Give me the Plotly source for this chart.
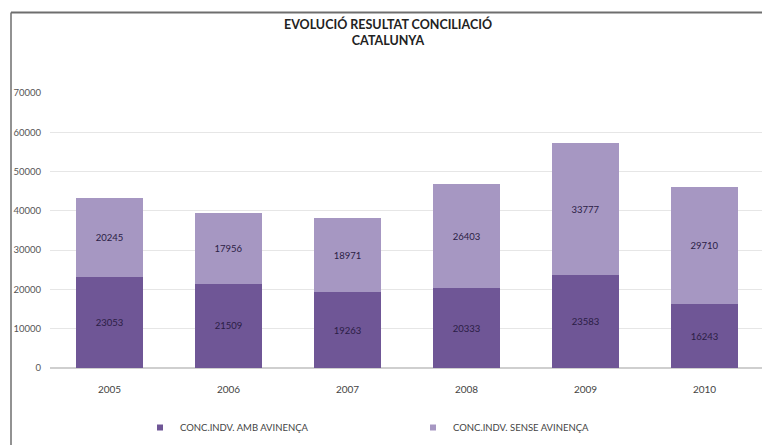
import plotly.graph_objects as go

years = ["2005", "2006", "2007", "2008", "2009", "2010"]
amb_avinenca = [23053, 21509, 19263, 20333, 23583, 16243]
sense_avinenca = [20245, 17956, 18971, 26403, 33777, 29710]
y_ticks = [0, 10000, 20000, 30000, 40000, 50000, 60000, 70000]
y_ticktext = ["0", "10000", "20000", "30000", "40000", "50000", "60000", "70000"]
series_names = ["CONC.INDV. AMB AVINENÇA", "CONC.INDV. SENSE AVINENÇA"]
title_text = "EVOLUCIÓ RESULTAT CONCILIACIÓ<br>CATALUNYA"

W, H = 762, 445
dark = "#6f5696"
light = "#a697c2"
font_family = "Lato, 'Open Sans', 'Liberation Sans', sans-serif"

fig = go.Figure()
for name, vals, col in [(series_names[0], amb_avinenca, dark),
                        (series_names[1], sense_avinenca, light)]:
    fig.add_trace(go.Bar(
        x=years, y=vals, name=name, showlegend=False,
        marker=dict(color=col, line=dict(width=0)),
        text=[str(v) for v in vals],
        textposition="inside", insidetextanchor="middle",
        textfont=dict(size=9.5, color="#2b1d45", family=font_family),
        width=0.56,
    ))
    # legend entry with a small square marker
    fig.add_trace(go.Scatter(
        x=[None], y=[None], mode="markers", name=name,
        marker=dict(symbol="square", size=6, color=col),
    ))

fig.update_layout(
    width=W, height=H,
    barmode="stack",
    paper_bgcolor="white", plot_bgcolor="white",
    margin=dict(l=0, r=0, t=0, b=0, autoexpand=False),
    font=dict(family=font_family, size=10, color="#595959"),
    title=dict(text=title_text, x=388 / W, xanchor="center", y=1 - 29 / H, yanchor="top",
               font=dict(size=12.5, color="#222222", family=font_family, weight="bold")),
    xaxis=dict(domain=[50 / W, 1], range=[-0.5, 5.483], type="category", automargin=False,
               showgrid=False, showline=False, ticks="", ticklabelstandoff=14,
               tickfont=dict(size=10, color="#444444")),
    yaxis=dict(domain=[77 / H, 352 / H], range=[0, 70000], tickvals=y_ticks, ticktext=y_ticktext,
               automargin=False,
               showgrid=True, gridcolor="#e6e6e6", gridwidth=1, zeroline=True,
               zerolinecolor="#cfcfcf", ticks="", showline=False,
               tickfont=dict(size=9.5, color="#555555"), ticklabelstandoff=8),
    legend=dict(orientation="h", traceorder="normal", x=140 / W, xanchor="left",
                y=1 - 413 / H, yanchor="top",
                entrywidth=228, entrywidthmode="pixels", itemwidth=30,
                font=dict(size=9.5, color="#444444"), bgcolor="rgba(0,0,0,0)"),
    showlegend=True,
    bargap=0.44,
)

# chart frame (top and left border of the chart area)
fig.add_shape(type="line", xref="paper", yref="paper", x0=11 / W, x1=1, y0=1 - 12.5 / H, y1=1 - 12.5 / H,
              line=dict(color="#6e6e6e", width=2))
fig.add_shape(type="line", xref="paper", yref="paper", x0=11 / W, x1=11 / W, y0=0, y1=1 - 12.5 / H,
              line=dict(color="#6e6e6e", width=1.5))

fig.write_html("out.html",
               config={"displayModeBar": False},
               post_script="document.body.style.margin='0';document.body.style.overflow='hidden';")
